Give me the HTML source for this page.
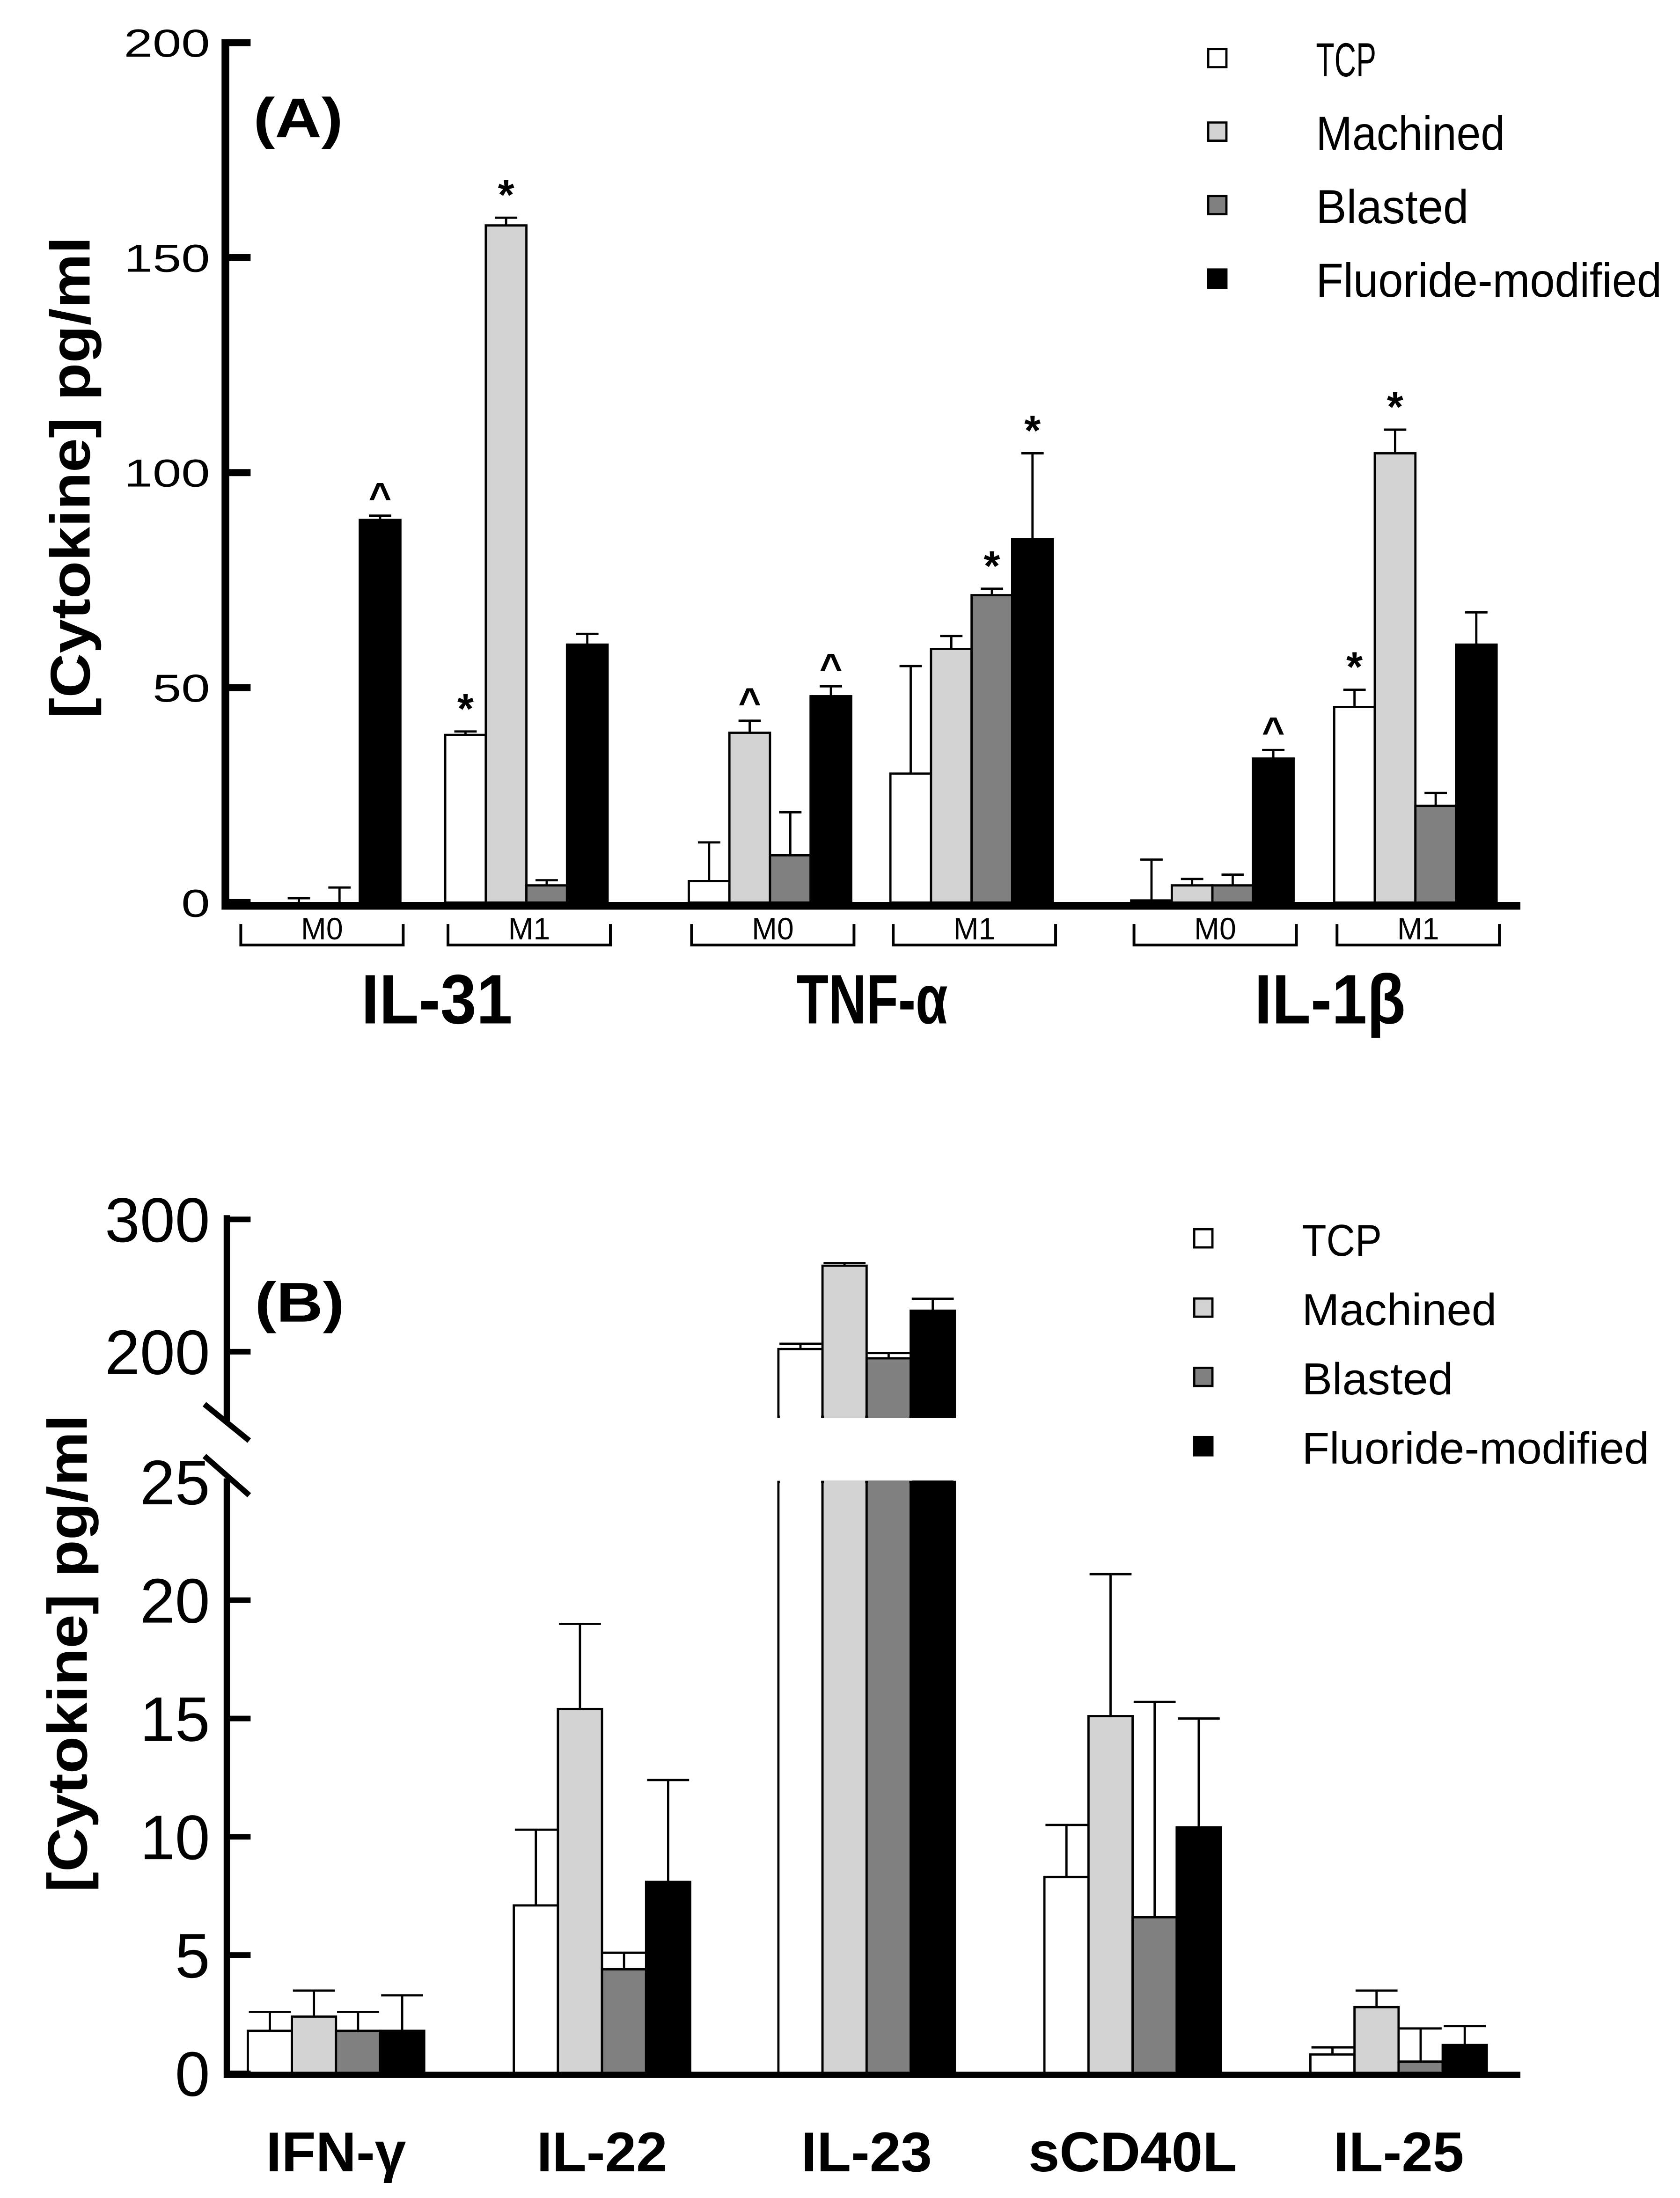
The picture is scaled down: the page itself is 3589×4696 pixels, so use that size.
<!DOCTYPE html>
<html><head><meta charset="utf-8">
<style>
html,body{margin:0;padding:0;background:#fff;}
svg{display:block;}
text{font-family:"Liberation Sans",Arial,sans-serif;fill:#000;}
</style></head>
<body>
<svg id="chart" xmlns="http://www.w3.org/2000/svg" width="3589" height="4696" viewBox="0 0 1200 1570" preserveAspectRatio="none">
<g id="pa"></g>
<g id="pb"></g>
</svg>
<script>
// ---------- Panel A data ----------
const seriesNames = ["TCP","Machined","Blasted","Fluoride-modified"];
const seriesFills = ["#ffffff","#d3d3d3","#808080","#000000"];
const aGroups = ["IL-31 M0","IL-31 M1","TNF-α M0","TNF-α M1","IL-1β M0","IL-1β M1"];
const aTCP   = [0, 39, 5, 30, 0.5, 45.5];
const aMach  = [0, 157.5, 39.5, 59, 4, 104.5];
const aBlast = [0, 4, 11, 71.5, 4, 22.5];
const aFluor = [89, 60, 48, 84.5, 33.5, 60];
const aTCPerr   = [0, 0.8, 9, 25, 9.5, 4];
const aMacherr  = [1, 1.8, 2.8, 3, 1.5, 5.5];
const aBlasterr = [3.5, 1.2, 10, 1.5, 2.5, 3];
const aFluorerr = [1, 2.5, 2.3, 20, 2, 7.5];
const aTCPmark   = ["","*","","","","*"];
const aMachmark  = ["","*","^","","","*"];
const aBlastmark = ["","","","*","",""];
const aFluormark = ["^","","^","*","^",""];
const aTicks = [0,50,100,150,200];
const aCytokines = ["IL-31","TNF-α","IL-1β"];
const aSubLabels = ["M0","M1","M0","M1","M0","M1"];
// ---------- Panel B data ----------
const bGroups = ["IFN-γ","IL-22","IL-23","sCD40L","IL-25"];
const bTCP   = [1.8, 7.1, 202, 8.3, 0.8];
const bMach  = [2.4, 15.4, 265, 15.1, 2.8];
const bBlast = [1.8, 4.4, 195, 6.6, 0.5];
const bFluor = [1.8, 8.1, 231, 10.4, 1.2];
const bTCPerr   = [0.8, 3.2, 4, 2.2, 0.3];
const bMacherr  = [1.1, 3.6, 2, 6, 0.7];
const bBlasterr = [0.8, 0.7, 4, 9.1, 1.4];
const bFluorerr = [1.5, 4.3, 9, 4.6, 0.8];
const bLowTicks = [0,5,10,15,20,25];
const bHighTicks = [200,300];

const NS="http://www.w3.org/2000/svg";
function mk(parent,tag,attrs,txt){
  const e=document.createElementNS(NS,tag);
  for(const k in attrs) e.setAttribute(k,attrs[k]);
  if(txt!==undefined) e.textContent=txt;
  parent.appendChild(e); return e;
}
const pa=document.getElementById('pa');
const pb=document.getElementById('pb');

// ---------- Panel A ----------
const yA = v => 644.7 - v*(614.2/200);
const aStarts=[170,318,492,636,808,953];
const aBW=29;
const xA=(g,s)=>aStarts[g]+s*aBW;
const aVals=[aTCP,aMach,aBlast,aFluor];
const aErrs=[aTCPerr,aMacherr,aBlasterr,aFluorerr];
const aMarks=[aTCPmark,aMachmark,aBlastmark,aFluormark];

for(let g=0;g<aGroups.length;g++){
  for(let s=0;s<4;s++){
    const v=aVals[s][g], e=aErrs[s][g], x=xA(g,s);
    if(v>0){
      const r=mk(pa,'rect',{x:x,y:yA(v),width:aBW,height:yA(0)-yA(v),fill:seriesFills[s],stroke:'#000','stroke-width':1.6});
      
      
    }
    if(e>0){
      const cx=x+aBW/2;
      const l=mk(pa,'path',{d:`M${cx},${yA(v)} V${yA(v+e)} M${cx-8},${yA(v+e)} H${cx+8}`,stroke:'#000','stroke-width':1.6,fill:'none'});
      
      
    }
    const m=aMarks[s][g];
    if(m){
      const t=mk(pa,'text',{x:x+aBW/2,y:yA(v+e)-(m==='*'?-8:-10)-14,'text-anchor':'middle','font-size':m==='*'?30:28,'font-weight':'bold'},m);
      
      
    }
  }
}
// axes A
let ax=mk(pa,'path',{d:`M161,28 V647 H1086`,stroke:'#000','stroke-width':5.5,fill:'none'});


aTicks.forEach(t=>{
  const tk=mk(pa,'path',{d:`M161,${yA(t)} H179`,stroke:'#000','stroke-width':5});
  
  
  const lab=mk(pa,'text',{x:150,y:yA(t)+10,'text-anchor':'end','font-size':28,textLength:String(t).length*20.5,lengthAdjust:'spacingAndGlyphs'},t);
  
  
});
// brackets
for(let g=0;g<aGroups.length;g++){
  const x0=aStarts[g]+2, x1=aStarts[g]+4*aBW+2;
  const b=mk(pa,'path',{d:`M${x0},660 V675 H${x1} V660`,stroke:'#000','stroke-width':2,fill:'none'});
  
  
  const t=mk(pa,'text',{x:(x0+x1)/2,y:671,'text-anchor':'middle','font-size':22,textLength:30,lengthAdjust:'spacingAndGlyphs'},aSubLabels[g]);
  
  
}
const aCatX=[312,623,950];
aCytokines.forEach((c,i)=>{
  const t=mk(pa,'text',{x:aCatX[i],y:731,'text-anchor':'middle','font-size':50,'font-weight':'bold',textLength:c.length*21.6,lengthAdjust:'spacingAndGlyphs'},c);
  
  
});
let ta=mk(pa,'text',{x:0,y:0,transform:'translate(64,341) rotate(-90)','text-anchor':'middle','font-size':40,'font-weight':'bold',textLength:344,lengthAdjust:'spacingAndGlyphs'},'[Cytokine] pg/ml');


let la=mk(pa,'text',{x:181,y:98,'font-size':40,'font-weight':'bold',textLength:64,lengthAdjust:'spacingAndGlyphs'},'(A)');


seriesNames.forEach((n,i)=>{
  const r=mk(pa,'rect',{x:863,y:35+i*52.5,width:13,height:13,fill:seriesFills[i],stroke:'#000','stroke-width':1.6});
  
  
  const t=mk(pa,'text',{x:940,y:54.5+i*52.5,'font-size':34,textLength:[43,135,109,247][i],lengthAdjust:'spacingAndGlyphs'},n);
  
  
});

// ---------- Panel B ----------
const yBlow = v => 1481 - v*(84.5/5);
const yBhigh = v => 965.5 - (v-200)*0.945;
const BREAK_LOW_TOP = yBlow(25), BREAK_HIGH_BOT = 1012;
const yB = v => v<=25 ? yBlow(v) : yBhigh(v);
const bStarts=[177,367,556,746,936];
const bBW=31.5;
const xB=(g,s)=>bStarts[g]+s*bBW;
const bVals=[bTCP,bMach,bBlast,bFluor];
const bErrs=[bTCPerr,bMacherr,bBlasterr,bFluorerr];
for(let g=0;g<bGroups.length;g++){
  for(let s=0;s<4;s++){
    const v=bVals[s][g], e=bErrs[s][g], x=xB(g,s);
    if(v<=25){
      const r=mk(pb,'rect',{x:x,y:yB(v),width:bBW,height:yBlow(0)-yB(v),fill:seriesFills[s],stroke:'#000','stroke-width':1.6});
      
      
    } else {
      const r=mk(pb,'rect',{x:x,y:yB(v),width:bBW,height:BREAK_HIGH_BOT-yB(v),fill:seriesFills[s],stroke:'#000','stroke-width':1.6});
      
      
      const r2=mk(pb,'rect',{x:x,y:BREAK_LOW_TOP,width:bBW,height:yBlow(0)-BREAK_LOW_TOP,fill:seriesFills[s],stroke:'#000','stroke-width':1.6});
      
      
      // hide top/bottom edges at break
      mk(pb,'rect',{x:x+1,y:BREAK_HIGH_BOT-1,width:bBW-2,height:2,fill:seriesFills[s]});
      mk(pb,'rect',{x:x+1,y:BREAK_LOW_TOP-1,width:bBW-2,height:2,fill:seriesFills[s]});
    }
    if(e>0){
      const cx=x+bBW/2;
      const l=mk(pb,'path',{d:`M${cx},${yB(v)} V${yB(v+e)} M${cx-15},${yB(v+e)} H${cx+15}`,stroke:'#000','stroke-width':1.6,fill:'none'});
      
      
    }
  }
}
let axb=mk(pb,'path',{d:`M162,868 V1015 M162,1056 V1482 H1086`,stroke:'#000','stroke-width':4.5,fill:'none'});


let brk=mk(pb,'path',{d:`M146,1003 L178,1029 M146,1040 L178,1068`,stroke:'#000','stroke-width':4,fill:'none'});


bLowTicks.forEach(t=>{
  if(t<25){
    const tk=mk(pb,'path',{d:`M162,${yBlow(t)} H179`,stroke:'#000','stroke-width':4});
    
    
  }
  const lab=mk(pb,'text',{x:150,y:yBlow(t)+16,'text-anchor':'end','font-size':45},t);
  
  
});
bHighTicks.forEach(t=>{
  const tk=mk(pb,'path',{d:`M162,${yBhigh(t)} H179`,stroke:'#000','stroke-width':4});
  
  
  const lab=mk(pb,'text',{x:150,y:yBhigh(t)+16,'text-anchor':'end','font-size':45},t);
  
  
});
bGroups.forEach((c,i)=>{
  const t=mk(pb,'text',{x:bStarts[i]+2*bBW,y:1551,'text-anchor':'middle','font-size':40,'font-weight':'bold'},c);
  
  
});
let tb=mk(pb,'text',{x:0,y:0,transform:'translate(62,1181) rotate(-90)','text-anchor':'middle','font-size':40,'font-weight':'bold',textLength:341,lengthAdjust:'spacingAndGlyphs'},'[Cytokine] pg/ml');


let lb=mk(pb,'text',{x:182,y:944,'font-size':40,'font-weight':'bold',textLength:64,lengthAdjust:'spacingAndGlyphs'},'(B)');


seriesNames.forEach((n,i)=>{
  const r=mk(pb,'rect',{x:853,y:878+i*49.5,width:13,height:13,fill:seriesFills[i],stroke:'#000','stroke-width':1.6});
  
  
  const t=mk(pb,'text',{x:930,y:897+i*49.5,'font-size':32,textLength:[57,139,108,248][i],lengthAdjust:'spacingAndGlyphs'},n);
  
  
});
</script>
</body></html>
